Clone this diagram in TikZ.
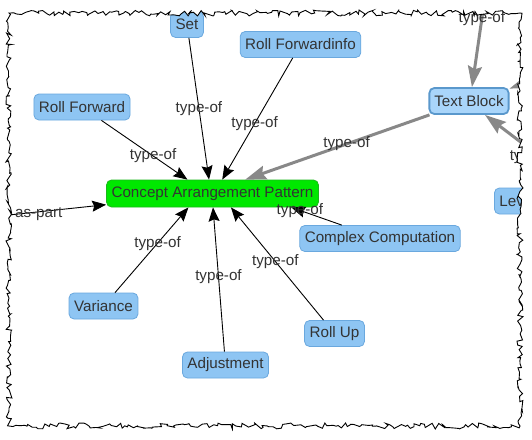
\documentclass[tikz,border=0pt]{standalone}
\usepackage{fontspec}
\setmainfont{Liberation Sans}
\usepackage{xcolor}
\usetikzlibrary{arrows.meta, decorations.pathmorphing}

\definecolor{boxfill}{HTML}{8EC5F3}
\definecolor{boxline}{HTML}{6AA8DE}
\definecolor{selfill}{HTML}{A9D5FA}
\definecolor{selline}{HTML}{5A98CC}
\definecolor{cptfill}{HTML}{00E800}
\definecolor{cptline}{HTML}{1CB81C}
\definecolor{txt}{HTML}{333333}
\definecolor{relgray}{HTML}{888888}

\begin{document}
\begin{tikzpicture}[x=1pt, y=-1pt,
    every node/.style={font=\fontsize{15.2}{18}\selectfont, text=txt},
    box/.style={draw=boxline, fill=boxfill, rounded corners=5pt, minimum height=26pt, inner xsep=5pt, line width=0.8pt},
    selbox/.style={box, draw=selline, fill=selfill, line width=1.8pt},
    conceptbox/.style={box, draw=cptline, fill=cptfill, minimum height=27pt},
    rel/.style={-{Stealth[length=14pt, width=11pt, inset=2pt]}, line width=0.9pt, black},
    grayrel/.style={-{Stealth[length=21pt, width=14pt, inset=3pt]}, line width=3pt, relgray},
    lbl/.style={inner sep=1pt},
    torn/.style={decorate, decoration={random steps, segment length=3pt, amplitude=3pt}}]
  \useasboundingbox (0,0) rectangle (532,439);

  \begin{scope}
    \pgfmathsetseed{11}
    \clip[torn] (9,13) -- (520,13) -- (520,426) -- (9,426) -- cycle;
    \fill[white] (0,0) rectangle (532,439);

    % concepts
    \node[conceptbox] (concept) at (212.5,193.5) {Concept Arrangement Pattern};
    \node[box] (set) at (187,24.5) {Set};
    \node[box] (rollfwdinfo) at (300.5,44.5) {Roll Forwardinfo};
    \node[box] (rollfwd) at (82,107) {Roll Forward};
    \node[selbox] (textblock) at (469,101) {Text Block};
    \node[box, anchor=west, text width=46pt, align=left] (level) at (494,201) {Lev};
    \node[box] (complex) at (380,238.5) {Complex Computation};
    \node[box] (rollup) at (334.5,333.5) {Roll Up};
    \node[box] (adjust) at (225.5,365) {Adjustment};
    \node[box] (variance) at (103.5,306) {Variance};

    % loose ends beyond the edge
    \coordinate (partsrc) at (-10,217);
    \coordinate (tbsrc1) at (486,-10);
    \coordinate (tbsrc2) at (560,172);
    \coordinate (tbsrc3) at (560,70);

    % relations
    \draw[rel] (set) -- (concept.104) node[lbl, pos=0.5] {type-of};
    \draw[rel] (rollfwdinfo) -- (concept.55) node[lbl, pos=0.54] {type-of};
    \draw[rel] (rollfwd) -- (concept.151) node[lbl, pos=0.6] {type-of};
    \draw[rel] (partsrc) -- (concept.186) node[lbl, pos=0.42, yshift=-2pt] {as-part};
    \draw[rel] (complex) -- (concept.-10) node[lbl, pos=0.83] {type-of};
    \draw[rel] (variance) -- (concept.210) node[lbl, pos=0.58] {type-of};
    \draw[rel] (adjust) -- (concept.-88) node[lbl, pos=0.52] {type-of};
    \draw[rel] (rollup) -- (concept.-37) node[lbl, pos=0.52] {type-of};

    \draw[grayrel] (textblock) -- (concept.23) node[lbl, pos=0.45] {type-of};
    \draw[grayrel] (tbsrc1) -- (textblock.78) node[lbl, pos=0.29] {type-of};
    \draw[grayrel] (tbsrc2) -- (textblock.-41) node[lbl, pos=0.36, yshift=-5pt] {type-of};
    \draw[grayrel] (tbsrc3) -- (textblock.17);
  \end{scope}

  % torn edge
  \pgfmathsetseed{11}
  \draw[line width=0.9pt, torn] (9,13) -- (520,13) -- (520,426) -- (9,426) -- cycle;
\end{tikzpicture}
\end{document}
